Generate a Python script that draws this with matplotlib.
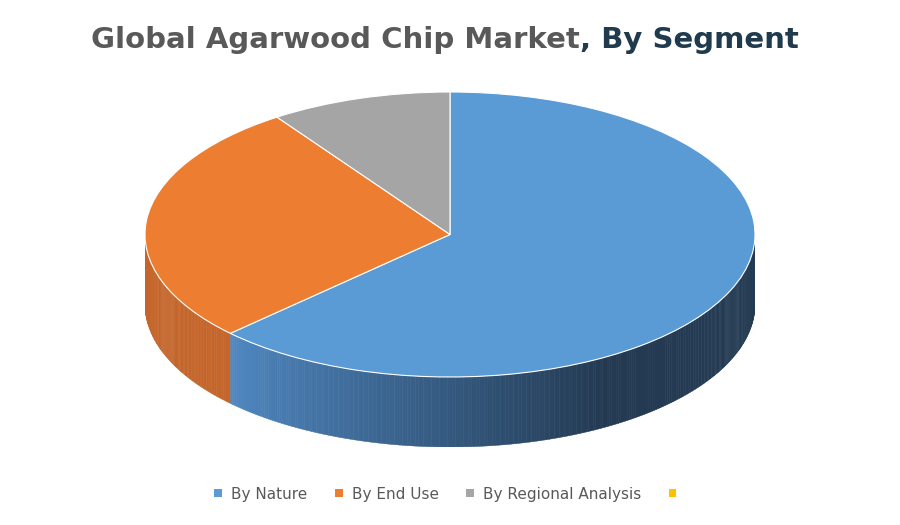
import numpy as np
import matplotlib
matplotlib.use("Agg")
from matplotlib import pyplot as plt
from matplotlib.patches import Polygon, Patch
from matplotlib.colors import to_rgb

# segment shares (%)
segments = ["By Nature", "By End Use", "By Regional Analysis", ""]
shares = [62.8, 27.6, 9.6, 0.0]
colors = ["#5b9bd5", "#ed7d31", "#a5a5a5", "#ffc000"]

W, H = 900, 525
fig = plt.figure(figsize=(W/100, H/100), dpi=100)
px = 1/W
py = 1/H
# top ellipse box (pixels): x 145..755, y 92..377, side depth 70 px
left, right, top, bot, depth = 145, 755, 92, 377, 70
ry = (bot - top)/2
ax = fig.add_axes([left*px, 1-(bot+depth)*py, (right-left)*px, (bot+depth-top)*py])
d = depth/ry

# side walls (visible front half), pie starts at 90 deg, clockwise
vals = np.array(shares[:3])
bounds = 90 - np.concatenate([[0], np.cumsum(vals)])*3.6
dark = np.array(to_rgb("#233a52"))
light = np.array(to_rgb("#4f88c2"))
orangeSide = to_rgb("#c4662b")
for a in np.arange(180, 360, 0.5):
    mid = a + 0.25
    m = ((mid - 90) % 360) - 360  # clockwise offset from 90
    ang = mid if mid <= 90 else mid - 360
    idx = 0
    for k in range(3):
        lo, hi = bounds[k+1], bounds[k]
        if lo <= ang <= hi or lo <= ang-360 <= hi:
            idx = k
    if idx == 0:
        t = np.clip((mid - 224)/(300-224), 0, 1)
        c = light*(1-t) + dark*t
    else:
        c = orangeSide
    th = np.radians([a, a+0.55])
    xs = np.cos(th); ys = np.sin(th)
    poly = [(xs[0], ys[0]), (xs[1], ys[1]), (xs[1], ys[1]-d), (xs[0], ys[0]-d)]
    ax.add_patch(Polygon(poly, closed=True, facecolor=c, edgecolor=c, lw=0.3))

ax.pie(shares[:3], colors=colors[:3], startangle=90, counterclock=False,
       wedgeprops=dict(edgecolor="white", linewidth=0.8))
ax.set_aspect("auto")
ax.set_xlim(-1, 1)
ax.set_ylim(-1-d, 1)
ax.axis("off")

fig.text(580*px, 1-40*py, "Global Agarwood Chip Market", ha="right", va="center",
         fontsize=21, fontweight="bold", color="#595959")
fig.text(580*px, 1-40*py, ", By Segment", ha="left", va="center",
         fontsize=21, fontweight="bold", color="#1f3b4d")

handles = [Patch(facecolor=c, edgecolor="none") for c in colors]
fig.legend(handles, segments, loc="center", bbox_to_anchor=(0.5, 1-494*py), ncol=4,
           frameon=False, fontsize=11, handlelength=0.5, handleheight=0.5,
           columnspacing=1.8, handletextpad=0.6, labelcolor="#595959")
fig.savefig("out.png", dpi=100, facecolor="white")
